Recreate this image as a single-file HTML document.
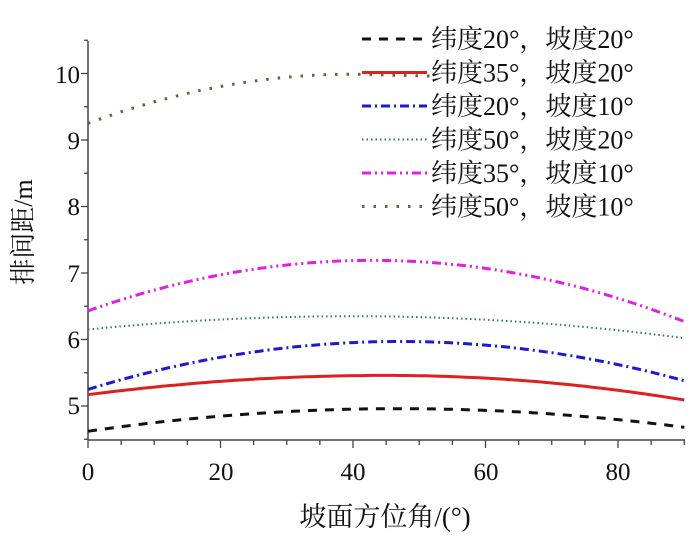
<!DOCTYPE html>
<html><head><meta charset="utf-8"><style>
html,body{margin:0;padding:0;background:#fff;}
svg{display:block;font-family:"Liberation Serif","Noto Serif CJK SC",serif;}
</style></head><body>
<svg id="s" width="700" height="544" viewBox="0 0 700 544" xmlns="http://www.w3.org/2000/svg">
<g stroke="#444" stroke-width="1.5" fill="none">
<line x1="88" y1="41" x2="88" y2="440"/>
<line x1="88" y1="440" x2="685" y2="440"/>
</g>
<g id="ticks" stroke="#444" stroke-width="1.3"></g>
<g font-size="25" fill="#111" text-anchor="end">
<text x="80" y="83">10</text><text x="80" y="149">9</text><text x="80" y="215">8</text>
<text x="80" y="282">7</text><text x="80" y="348">6</text><text x="80" y="414">5</text>
</g>
<g font-size="25" fill="#111" text-anchor="middle">
<text x="88" y="480">0</text><text x="221" y="480">20</text><text x="353" y="480">40</text>
<text x="486" y="480">60</text><text x="618" y="480">80</text>
</g>
<text x="385" y="526" font-size="27" text-anchor="middle" fill="#111">坡面方位角/(°)</text>
<text transform="translate(32,232) rotate(-90)" font-size="26" text-anchor="middle" fill="#111">排间距/m</text>
<g id="series" fill="none"></g>
<g id="legend" font-size="26" fill="#111"></g>
</svg>
<script>
var X=function(v){return 88+v*6.625}, Y=function(v){return 406-(v-5)*66.5};
var t=document.getElementById('ticks'),h='';
for(var v=0;v<=90;v+=5){var m=v%20==0;h+='<line x1="'+X(v)+'" y1="440" x2="'+X(v)+'" y2="'+(440+(m?8:5))+'"/>';}
for(var v=4.5;v<=10.5;v+=0.5){var m=v%1==0;h+='<line x1="88" y1="'+Y(v)+'" x2="'+(88-(m?7:4))+'" y2="'+Y(v)+'"/>';}
t.innerHTML=h;
var S=[
[4.62,4.96,47,4.68,90,'#111','9,8',3],
[5.17,5.46,45,5.09,90,'#e02020','',3],
[5.25,5.97,47,5.38,90,'#1a1ad0','9,4,2,4',3],
[6.15,6.35,40,6.02,90,'#2a7a6a','1.5,3',2],
[6.43,7.19,43,6.27,90,'#e020e0','9,4,2,4,2,4',3],
[9.25,9.99,40,9.99,52,'#666633','2.5,9',3]];
var g='';
S.forEach(function(s){var d='';for(var x=0;x<=s[4];x+=1){var f;
if(x<=s[2]){var r=(s[2]-x)/s[2];f=s[1]-(s[1]-s[0])*r*r;}else{var r=(x-s[2])/(90-s[2]);f=s[1]-(s[1]-s[3])*r*r;}
if(s[4]<90&&x>s[2])f=s[1]-0.03*(x-s[2])/(s[4]-s[2]);
d+=(x?'L':'M')+X(x).toFixed(1)+','+Y(f).toFixed(1);}
g+='<path d="'+d+'" stroke="'+s[5]+'" stroke-width="'+s[7]+'"'+(s[6]?' stroke-dasharray="'+s[6]+'"':'')+'/>';});
document.getElementById('series').innerHTML=g;
var L=['纬度20°，坡度20°','纬度35°，坡度20°','纬度20°，坡度10°','纬度50°，坡度20°','纬度35°，坡度10°','纬度50°，坡度10°'],lh='';
L.forEach(function(n,i){var y=39+i*33.5,s=S[i];
lh+='<line x1="362" y1="'+y+'" x2="427" y2="'+y+'" stroke="'+s[5]+'" stroke-width="'+s[7]+'"'+(s[6]?' stroke-dasharray="'+s[6]+'"':'')+'/>';
lh+='<text x="431" y="'+(y+9)+'">'+n+'</text>';});
document.getElementById('legend').innerHTML=lh;
</script>
</body></html>
